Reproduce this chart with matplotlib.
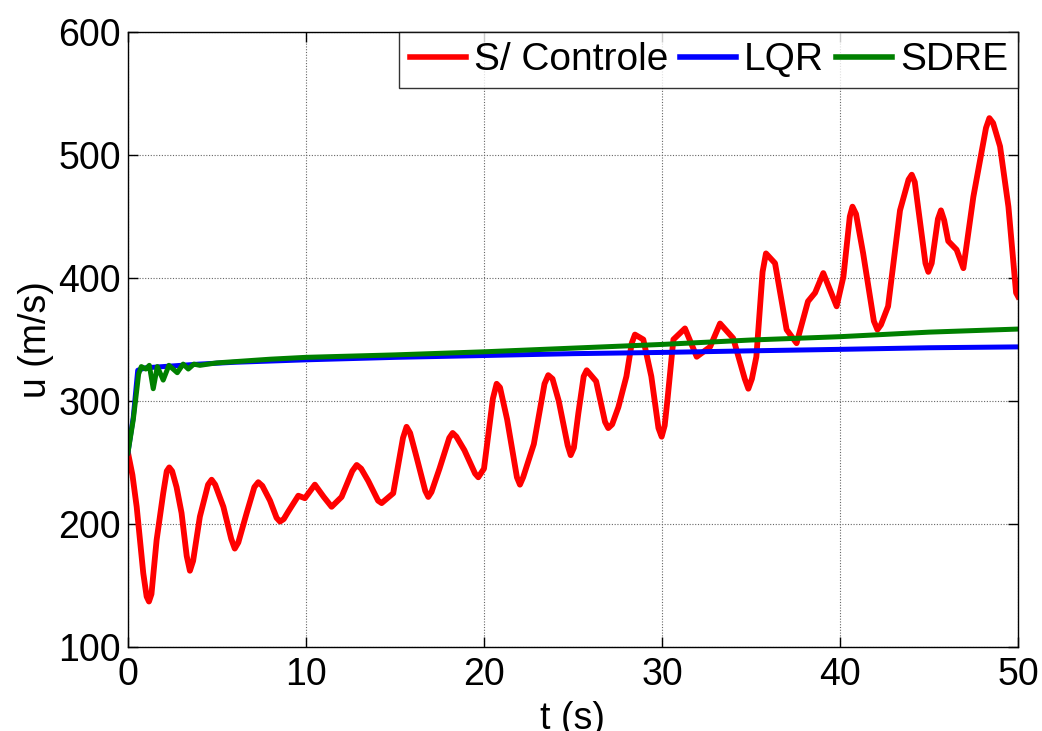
import numpy as np
import matplotlib
matplotlib.use("Agg")
import matplotlib.pyplot as plt

plt.rcParams['font.family'] = ['Liberation Sans', 'DejaVu Sans']

# S/ Controle (sem controle)
t_sc = [0, 0.25, 0.49, 0.86, 1.05, 1.18, 1.32, 1.61, 1.98, 2.18, 2.32, 2.48, 2.73, 3.01,
        3.3, 3.48, 3.66, 4.04, 4.5, 4.7, 4.9, 5.36, 5.8, 6.0, 6.2, 6.67, 7.1, 7.32,
        7.55, 7.98, 8.35, 8.54, 8.75, 9.0, 9.57, 9.94, 10.5, 11.0, 11.44, 12.0, 12.6,
        12.85, 13.1, 13.5, 14.05, 14.25, 14.9, 15.45, 15.65, 15.85, 16.2, 16.7, 16.87,
        17.05, 17.5, 18.05, 18.24, 18.45, 18.9, 19.5, 19.68, 20.0, 20.5, 20.71, 20.9,
        21.3, 21.85, 22.02, 22.2, 22.8, 23.4, 23.61, 23.85, 24.2, 24.7, 24.87, 25.05,
        25.3, 25.6, 25.77, 26.3, 26.8, 26.98, 27.2, 27.55, 28.0, 28.3, 28.48, 28.95,
        29.4, 29.8, 29.98, 30.15, 30.3, 30.64, 31.29, 31.95, 32.7, 33.26, 34.0, 34.65,
        34.85, 35.05, 35.3, 35.65, 35.84, 36.35, 37.0, 37.56, 38.2, 38.6, 39.06, 39.81,
        40.19, 40.55, 40.7, 40.9, 41.3, 41.9, 42.1, 42.3, 42.7, 43.37, 43.85, 44.03,
        44.2, 44.5, 44.8, 44.96, 45.15, 45.5, 45.67, 45.85, 46.08, 46.55, 46.93, 47.49,
        48.2, 48.39, 48.6, 48.99, 49.46, 49.89, 50]
u_sc = [258, 240, 214, 160, 141, 137, 143, 187, 225, 243, 246, 243, 230, 209,
        174, 162, 170, 206, 232, 236, 232, 214, 188, 180, 185, 209, 230, 234,
        231, 219, 205, 202, 204, 210, 223, 221, 232, 222, 214, 222, 243,
        248, 245, 235, 219, 217, 225, 270, 279, 274, 255, 227, 222,
        226, 245, 270, 274, 271, 260, 241, 238, 245, 302, 314, 311,
        285, 238, 232, 238, 265, 314, 321, 318, 300, 264, 256, 262,
        290, 320, 325, 316, 283, 278, 281, 295, 320, 347, 354, 350,
        320, 278, 271, 280, 300, 350, 359, 336, 344, 363, 351, 318,
        310, 318, 336, 405, 420, 412, 358, 347, 381, 388, 404, 377,
        401, 450, 458, 452, 420, 365, 358, 362, 377, 455, 480, 484,
        478, 445, 412, 405, 412, 448, 455, 447, 430, 423, 408, 466,
        522, 530, 526, 507, 458, 388, 385]

# LQR
t_lqr = [0, 0.3, 0.55, 1, 2, 4, 6, 10, 15, 20, 25, 30, 35, 40, 45, 50]
u_lqr = [258, 287, 325, 327, 328, 330, 331.5, 333.5, 335.5, 337, 338.5, 339.5, 340.8, 342, 343.3, 344]

# SDRE
t_sdre = [0, 0.3, 0.6, 0.75, 1.0, 1.2, 1.42, 1.65, 1.98, 2.3, 2.77, 3.1, 3.39, 3.7, 4.04,
          4.5, 5, 6, 8, 10, 15, 20, 25, 30, 35, 40, 45, 50]
u_sdre = [258, 285, 322, 328, 326, 329, 310, 328, 317, 329, 323, 330, 326, 330, 329,
          330, 331, 332, 334, 335.5, 337.5, 340, 343, 346, 349.6, 352.3, 356, 358.5]

fig = plt.figure(figsize=(10.42, 7.31), dpi=100)
ax = fig.add_axes([0.1228, 0.1149, 0.8542, 0.8413])

ax.plot(t_sc, u_sc, color='#ff0000', lw=4.2, label='S/ Controle', solid_joinstyle='round')
ax.plot(t_lqr, u_lqr, color='#0000ff', lw=3.6, label='LQR', solid_joinstyle='round')
ax.plot(t_sdre, u_sdre, color='#008000', lw=3.6, label='SDRE', solid_joinstyle='round')

ax.set_xlim(0, 50)
ax.set_ylim(100, 600)
ax.set_xticks([0, 10, 20, 30, 40, 50])
ax.set_yticks([100, 200, 300, 400, 500, 600])
ax.grid(True, color='#666666', linestyle=(0, (1, 1.5)), linewidth=0.8)
ax.tick_params(direction='in', length=7, width=1, top=True, right=True, labelsize=27)
ax.tick_params(axis='x', pad=7)
ax.tick_params(axis='y', pad=5)
for s in ax.spines.values():
    s.set_linewidth(1.0)
    s.set_color('black')

ax.set_xlabel('t (s)', fontsize=27, labelpad=6)
ax.set_ylabel('u (m/s)', fontsize=27, labelpad=3)

leg = ax.legend(loc='upper right', ncol=3, fontsize=28, frameon=True, fancybox=False,
                edgecolor='black', borderaxespad=0, handlelength=1.45, columnspacing=0.3,
                handletextpad=0.2, borderpad=0.26)
leg.get_frame().set_linewidth(1.0)
for h in leg.get_lines():
    h.set_linewidth(4.0)

fig.savefig('out.png', dpi=100)
